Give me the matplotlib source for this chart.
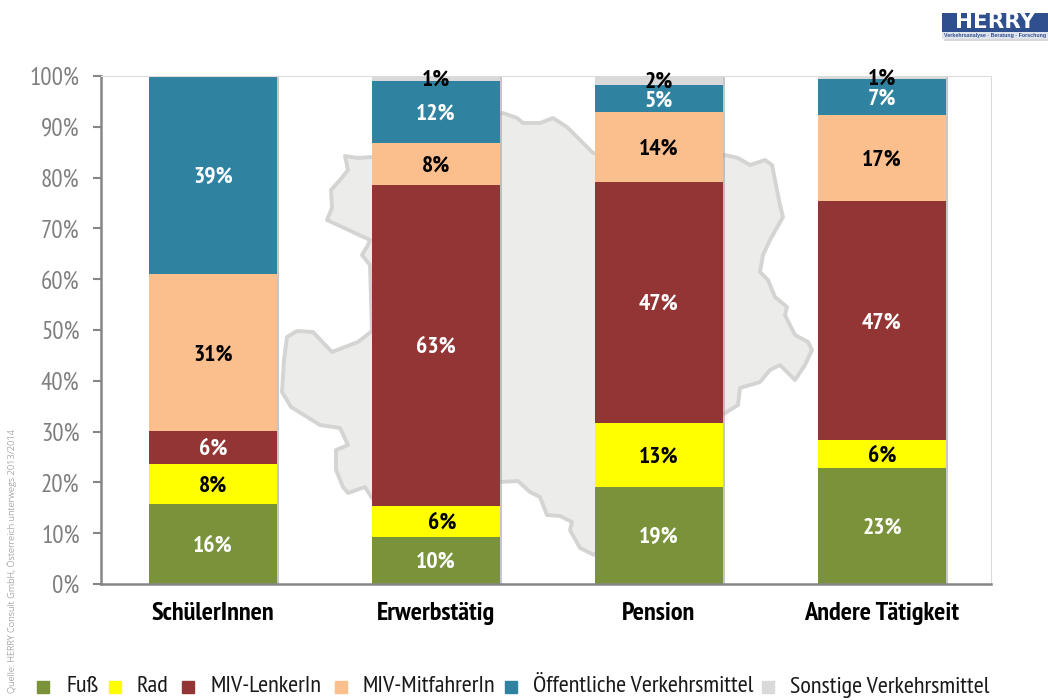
import matplotlib
matplotlib.use('Agg')
import matplotlib.pyplot as plt
from matplotlib.patches import Polygon, Rectangle
from matplotlib.lines import Line2D
import numpy as np

W = 1048
H = 700

plt.rcParams['font.family'] = ['PT Sans Narrow', 'Liberation Sans']

# chart values
categories = ['SchülerInnen', 'Erwerbstätig', 'Pension', 'Andere Tätigkeit']
series = ['Fuß', 'Rad', 'MIV-LenkerIn', 'MIV-MitfahrerIn', 'Öffentliche Verkehrsmittel', 'Sonstige Verkehrsmittel']
colors = ['#7a933b', '#ffff00', '#933535', '#fbbe8d', '#2f83a0', '#d9d9d9']
text_colors = ['white', 'black', 'white', 'black', 'white', 'black']

fuss = [15.8, 9.3, 19.1, 22.8]
rad = [7.9, 6.1, 12.6, 5.5]
lenker = [6.4, 63.1, 47.4, 47.1]
mitfahrer = [30.9, 8.3, 13.8, 16.9]
oeffentlich = [39.0, 12.2, 5.3, 7.1]
sonstige = [0.0, 1.0, 1.8, 0.6]

fuss_labels = ['16%', '10%', '19%', '23%']
rad_labels = ['8%', '6%', '13%', '6%']
lenker_labels = ['6%', '63%', '47%', '47%']
mitfahrer_labels = ['31%', '8%', '14%', '17%']
oeffentlich_labels = ['39%', '12%', '5%', '7%']
sonstige_labels = ['', '1%', '2%', '1%']

values = [fuss, rad, lenker, mitfahrer, oeffentlich, sonstige]
labels = [fuss_labels, rad_labels, lenker_labels, mitfahrer_labels, oeffentlich_labels, sonstige_labels]

# outline of the map behind the bars, in picture pixels
map_outline = [
    (372, 157), (358, 158), (345, 156), (348, 170), (340, 180), (331, 190), (332, 208), (327, 220),
    (340, 226), (370, 240), (368, 245), (362, 255), (370, 265), (372, 331), (358, 342), (332, 352),
    (313, 332), (297, 331), (287, 337), (284, 360), (282, 392), (291, 407), (320, 425), (340, 428),
    (348, 445), (336, 450), (336, 470), (343, 487), (348, 493), (365, 487), (372, 498), (499, 482),
    (518, 481), (530, 492), (540, 497), (547, 515), (560, 516), (572, 522), (570, 530), (580, 548),
    (594, 555), (722, 415), (738, 405), (740, 388), (760, 382), (770, 370), (780, 365), (795, 380),
    (805, 365), (812, 350), (808, 342), (795, 335), (785, 315), (787, 307), (775, 297), (768, 280),
    (760, 272), (763, 255), (770, 240), (783, 217), (780, 205), (775, 180), (772, 165), (765, 160),
    (750, 165), (738, 158), (725, 155), (593, 153), (567, 127), (553, 118), (540, 123), (523, 123),
    (517, 118), (503, 113),
]


def px(x, y):
    return x / W, 1 - y / H


fig = plt.figure(figsize=(W / 100, H / 100), dpi=100)
ax = fig.add_axes([101 / W, 1 - 584 / H, (991 - 101) / W, (584 - 76) / H])
ax.patch.set_alpha(0)

fig.add_artist(Polygon([px(x, y) for x, y in map_outline], closed=True, transform=fig.transFigure,
                       facecolor='#ecedeb', edgecolor='#d4d5d3', linewidth=2.8, joinstyle='round', zorder=-1))

x = np.arange(len(categories))
bar_width = 0.574

# soft shadow on the right of each bar
totals = np.sum(values, axis=0)
ax.bar(x + 0.010, totals, bar_width, color='#a0a0a0', alpha=0.6, zorder=1)

bottom = np.zeros(len(categories))
for i in range(len(series)):
    ax.bar(x, values[i], bar_width, bottom=bottom, color=colors[i], zorder=2)
    for j in range(len(categories)):
        shift = 0.03 if (i == 1 and j == 1) else 0
        # labels sit about 2 px under the middle of their segment
        ax.annotate(labels[i][j], (x[j] + shift, bottom[j] + values[i][j] / 2), xytext=(0, -1.5),
                    textcoords='offset points', ha='center', va='center',
                    color=text_colors[i], fontsize=17, fontweight='bold', zorder=3)
    bottom = bottom + np.array(values[i])

ax.set_xlim(-0.502, 3.489)
ax.set_ylim(0, 100)
ax.set_yticks(range(0, 101, 10))
ax.set_yticklabels([str(v) + '%' for v in range(0, 101, 10)], fontsize=18, color='#7f7f7f')
ax.set_xticks(x)
ax.set_xticklabels(categories, fontsize=19, fontweight='bold', color='black')
ax.tick_params(axis='x', length=0, pad=13)
ax.tick_params(axis='y', length=6, width=1.5, color='#868686', pad=9.5)

ax.spines['left'].set_color('#868686')
ax.spines['left'].set_linewidth(1.8)
ax.spines['bottom'].set_color('#868686')
ax.spines['bottom'].set_linewidth(1.8)
ax.spines['top'].set_color('#dcdcdc')
ax.spines['right'].set_color('#dcdcdc')

# legend, placed entry by entry
legend_marker_x = [43, 115, 188, 341, 511, 768]
legend_text_x = [66, 137, 210, 363, 533, 790]
legend_y = 687
for i in range(len(series)):
    mx, my = px(legend_marker_x[i], legend_y)
    fig.add_artist(Line2D([mx], [my], linestyle='none', marker='s', markersize=8.6, color=colors[i],
                          transform=fig.transFigure))
    tx, ty = px(legend_text_x[i], legend_y)
    fig.text(tx, ty, series[i], ha='left', va='center', fontsize=17.5, color='#1a1a1a')

# source line
sx, sy = px(12, 693)
fig.text(sx, sy, 'Quelle: HERRY Consult GmbH, Österreich unterwegs 2013/2014', rotation=90,
         ha='center', va='bottom', fontsize=6.7, color='#777777', family=['Open Sans', 'DejaVu Sans'],
         fontweight='light')

# logo
fig.add_artist(Rectangle(px(944, 41), 104 / W, 27 / H, transform=fig.transFigure, facecolor='#bdbdbd',
                         edgecolor='none', alpha=0.6))
fig.add_artist(Rectangle(px(942, 32), 106 / W, 19 / H, transform=fig.transFigure, facecolor='#2f4f8f',
                         edgecolor='none'))
fig.add_artist(Rectangle(px(942, 39), 106 / W, 7 / H, transform=fig.transFigure, facecolor='#dfe3ec',
                         edgecolor='none'))
logo_x, logo_y = px(995, 22)
fig.text(logo_x, logo_y, 'HERRY', ha='center', va='center', fontsize=15.5, fontweight='bold', color='white',
         family=['DejaVu Sans'])
sub_x, sub_y = px(995, 35.5)
fig.text(sub_x, sub_y, 'Verkehrsanalyse · Beratung · Forschung', ha='center', va='center', fontsize=3.8,
         color='#2f4f8f', fontweight='bold', family=['Liberation Sans', 'DejaVu Sans'])

fig.savefig('out.png', dpi=100)
